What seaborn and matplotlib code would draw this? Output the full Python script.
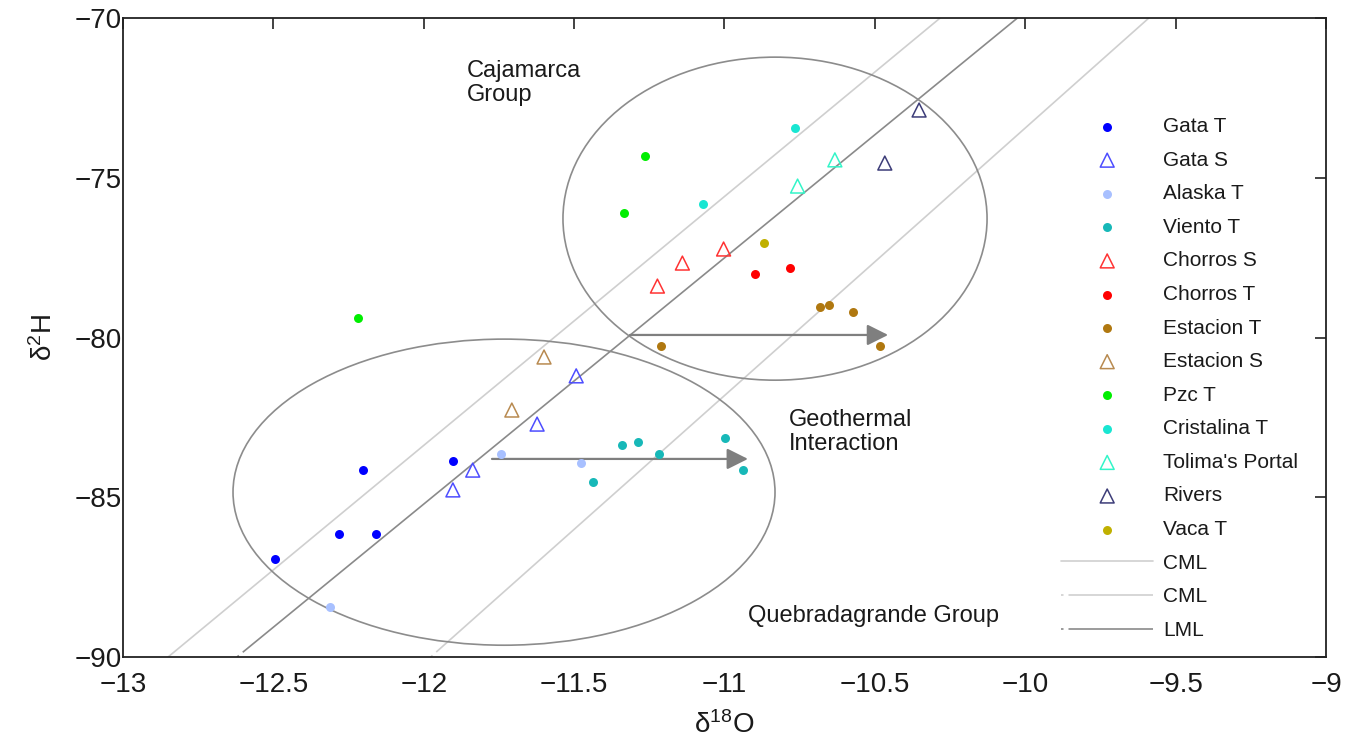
import numpy as np
import pandas as pd
import seaborn as sns
import matplotlib
matplotlib.use('Agg')
import matplotlib.pyplot as plt
from matplotlib.patches import Ellipse

# ---------------- data ----------------
gata_t_x = [-12.493, -12.203, -12.280, -12.157, -11.903]
gata_t_y = [-86.93, -84.15, -86.15, -86.15, -83.87]
gata_s_x = [-11.903, -11.837, -11.623, -11.493]
gata_s_y = [-84.77, -84.15, -82.71, -81.20]
alaska_t_x = [-11.743, -12.310, -11.477]
alaska_t_y = [-83.65, -88.43, -83.93]
viento_t_x = [-11.437, -11.340, -11.287, -11.217, -10.997, -10.940]
viento_t_y = [-84.52, -83.36, -83.27, -83.65, -83.15, -84.15]
chorros_s_x = [-11.223, -11.140, -11.003]
chorros_s_y = [-78.39, -77.67, -77.23]
chorros_t_x = [-10.897, -10.783]
chorros_t_y = [-78.01, -77.82]
estacion_t_x = [-11.210, -10.683, -10.653, -10.573, -10.483]
estacion_t_y = [-80.27, -79.05, -78.98, -79.20, -80.27]
estacion_s_x = [-11.600, -11.707]
estacion_s_y = [-80.61, -82.27]
pzc_t_x = [-11.263, -11.333, -12.220]
pzc_t_y = [-74.32, -76.10, -79.39]
cristalina_t_x = [-10.767, -11.070]
cristalina_t_y = [-73.44, -75.82]
tolima_x = [-10.633, -10.757]
tolima_y = [-74.44, -75.26]
rivers_x = [-10.353, -10.467]
rivers_y = [-72.88, -74.54]
vaca_t_x = [-10.867]
vaca_t_y = [-77.04]

# meteoric water lines (end points at the frame)
cml1_x = [-12.850, -10.283]
cml1_y = [-90, -70]
cml2_x = [-11.977, -9.589]
cml2_y = [-90, -70]
lml_x = [-12.621, -10.026]
lml_y = [-90, -70]

# (name, x, y, marker, colour)
series = [
    ('Gata T', gata_t_x, gata_t_y, 'o', '#0000ff'),
    ('Gata S', gata_s_x, gata_s_y, '^', '#4d4dff'),
    ('Alaska T', alaska_t_x, alaska_t_y, 'o', '#a8c0ff'),
    ('Viento T', viento_t_x, viento_t_y, 'o', '#17b8b8'),
    ('Chorros S', chorros_s_x, chorros_s_y, '^', '#ff3333'),
    ('Chorros T', chorros_t_x, chorros_t_y, 'o', '#ff0000'),
    ('Estacion T', estacion_t_x, estacion_t_y, 'o', '#b07810'),
    ('Estacion S', estacion_s_x, estacion_s_y, '^', '#b88a50'),
    ('Pzc T', pzc_t_x, pzc_t_y, 'o', '#00ee00'),
    ('Cristalina T', cristalina_t_x, cristalina_t_y, 'o', '#19e6d2'),
    ("Tolima's Portal", tolima_x, tolima_y, '^', '#33f5c8'),
    ('Rivers', rivers_x, rivers_y, '^', '#3c3c78'),
    ('Vaca T', vaca_t_x, vaca_t_y, 'o', '#c0b000'),
]

rows = []
for name, xs, ys, m, c in series:
    for xv, yv in zip(xs, ys):
        rows.append([name, xv, yv])
df = pd.DataFrame(rows, columns=['Sample', 'd18O', 'd2H'])

# ---------------- plotting ----------------
sns.set_theme(style='white')
plt.rcParams['font.family'] = ['Liberation Sans', 'DejaVu Sans']
plt.rcParams['mathtext.fontset'] = 'custom'
plt.rcParams['mathtext.rm'] = 'Liberation Sans'
plt.rcParams['mathtext.it'] = 'Liberation Sans:italic'
text_col = '#1a1a1a'

fig = plt.figure(figsize=(13.45, 7.44), dpi=100)
ax = fig.add_axes([0.0914, 0.1169, 0.8945, 0.8589])

for name, xs, ys, m, c in series:
    sub = df[df['Sample'] == name]
    if m == 'o':
        sns.scatterplot(data=sub, x='d18O', y='d2H', ax=ax, marker='o', s=42,
                        color=c, linewidth=0, label=name, zorder=4)
    else:
        sns.scatterplot(data=sub, x='d18O', y='d2H', ax=ax, marker='^', s=100,
                        facecolor='none', edgecolor=c, linewidth=1.1, label=name, zorder=4)

ax.plot(cml1_x, cml1_y, color='#cfcfcf', lw=1.2, label='CML', zorder=2)
ax.plot(cml2_x, cml2_y, color='#cfcfcf', lw=1.2, label='CML', zorder=2,
        linestyle=(0, (1.5, 3, 590, 4)))
ax.plot(lml_x, lml_y, color='#8a8a8a', lw=1.2, label='LML', zorder=2,
        linestyle=(0, (1.5, 3, 1500, 3)))

# group ellipses
ax.add_patch(Ellipse((-10.832, -76.28), 1.41, 10.11, fill=False, edgecolor='#8c8c8c', lw=1.2, zorder=3))
ax.add_patch(Ellipse((-11.733, -84.84), 1.802, 9.58, fill=False, edgecolor='#8c8c8c', lw=1.2, zorder=3))

# geothermal shift arrows
arrow_kw = dict(arrowstyle='-|>', color='#7f7f7f', lw=1.6, mutation_scale=32, shrinkA=0, shrinkB=0)
ax.annotate('', xy=(-10.456, -79.92), xytext=(-11.314, -79.92), arrowprops=arrow_kw, zorder=3)
ax.annotate('', xy=(-10.922, -83.80), xytext=(-11.773, -83.80), arrowprops=arrow_kw, zorder=3)

ax.text(-11.856, -71.32, 'Cajamarca\nGroup', fontsize=17, color=text_col, va='top', ha='left', linespacing=1.1)
ax.text(-10.786, -82.25, 'Geothermal\nInteraction', fontsize=17, color=text_col, va='top', ha='left', linespacing=1.1)
ax.text(-10.922, -88.36, 'Quebradagrande Group', fontsize=17, color=text_col, va='top', ha='left')

ax.set_xlim(-13, -9)
ax.set_ylim(-90, -70)
ax.set_xticks(np.arange(-13, -8.9, 0.5))
ax.set_xticklabels(['−13', '−12.5', '−12', '−11.5', '−11', '−10.5', '−10', '−9.5', '−9'])
ax.set_yticks([-90, -85, -80, -75, -70])
ax.set_yticklabels(['−90', '−85', '−80', '−75', '−70'])
ax.tick_params(axis='both', direction='in', length=8, width=1.2, colors='#222222',
               labelsize=20, labelcolor=text_col, top=True, right=True)
ax.tick_params(axis='x', pad=11)
ax.tick_params(axis='y', pad=1)
for sp in ax.spines.values():
    sp.set_color('#222222')
    sp.set_linewidth(1.3)

ax.set_xlabel('δ$^{18}$O', fontsize=20, color=text_col, labelpad=9)
ax.set_ylabel('δ$^{2}$H', fontsize=20, color=text_col, labelpad=12)

handles, labels = ax.get_legend_handles_labels()
ax.legend(handles, labels, loc='upper left', bbox_to_anchor=(0.78, 0.845), frameon=False,
          fontsize=15, handlelength=4.4, handletextpad=0.5, labelspacing=0.70,
          borderpad=0, borderaxespad=0, labelcolor=text_col)

fig.savefig('out.png', dpi=100)
